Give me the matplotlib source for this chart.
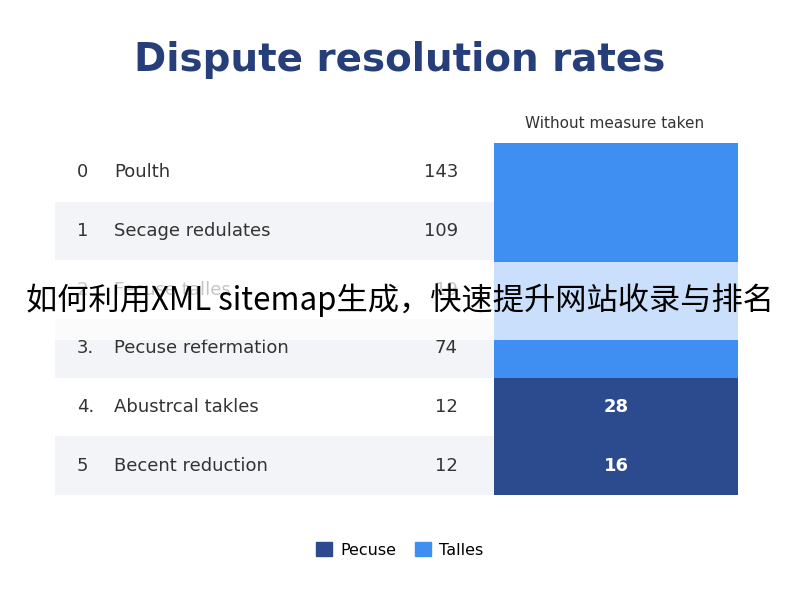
import matplotlib.pyplot as plt
from matplotlib.patches import Patch, Rectangle

plt.rcParams['font.family'] = ['DejaVu Sans']

TITLE = "Dispute resolution rates"
COLUMN_HEADER = "Without measure taken"
ROW_IDS = ["0", "1", "2.", "3.", "4.", "5"]
ROW_LABELS = ["Poulth", "Secage redulates", "Fecuse talles", "Pecuse refermation",
              "Abustrcal takles", "Becent reduction"]
ROW_VALUES = [143, 109, 19, 74, 12, 12]
CELL_VALUES = [None, None, None, None, 28, 16]
CELL_GROUP = ["Talles", "Talles", "Talles", "Talles", "Pecuse", "Pecuse"]
LEGEND_NAMES = ["Pecuse", "Talles"]
OVERLAY = "如何利用XML sitemap生成，快速提升网站收录与排名"

COLORS = {"Pecuse": "#2c4b8e", "Talles": "#3f8ff2"}
NAVY = "#263f7a"

fig = plt.figure(figsize=(8, 6), dpi=100)
fig.text(0.5, 0.90, TITLE, ha="center", va="center", fontsize=28,
         fontweight="bold", color=NAVY)

# table area: 55..738 px wide, 143..495 px tall
ax = fig.add_axes([55 / 800, 1 - 495 / 600, 683 / 800, 352 / 600])
ax.set_xlim(0, 683)
ax.set_ylim(len(ROW_IDS) - 0.5, -0.5)
ax.axis("off")

n = len(ROW_IDS)
bg = ["white" if i % 2 == 0 else "#f3f4f7" for i in range(n)]
ax.barh(range(n), 439, left=0, height=1, color=bg)
ax.barh(range(n), 244, left=439, height=1,
        color=[COLORS[g] for g in CELL_GROUP])
for i in range(n):
    ax.text(22, i, ROW_IDS[i], va="center", fontsize=13, color="#333333")
    ax.text(59, i, ROW_LABELS[i], va="center", fontsize=13, color="#333333")
    ax.text(403, i, str(ROW_VALUES[i]), va="center", ha="right",
            fontsize=13, color="#333333")
    if CELL_VALUES[i] is not None:
        ax.text(561, i, str(CELL_VALUES[i]), va="center", ha="center",
                fontsize=13, fontweight="bold", color="white")

fig.text(615 / 800, 1 - 124 / 600, COLUMN_HEADER, ha="center", va="center",
         fontsize=11, color="#333333")

handles = [Patch(color=COLORS[k]) for k in LEGEND_NAMES]
fig.legend(handles, LEGEND_NAMES, loc="center", bbox_to_anchor=(0.5, 1 - 550 / 600),
           ncol=2, frameon=False, fontsize=11.5, handlelength=1.0,
           handleheight=0.9, columnspacing=1.2, handletextpad=0.5)

# semi-transparent overlay band with caption
fig.patches.append(Rectangle((0, 1 - 340 / 600), 1, 78 / 600, transform=fig.transFigure,
                             facecolor="white", alpha=0.72, edgecolor="none", zorder=5))
fig.text(0.5, 1 - 300 / 600, OVERLAY, ha="center", va="center", fontsize=22.5,
         color="black", zorder=6, family=["Noto Sans CJK SC", "DejaVu Sans"])

fig.savefig("out.png", dpi=100, facecolor="white")
